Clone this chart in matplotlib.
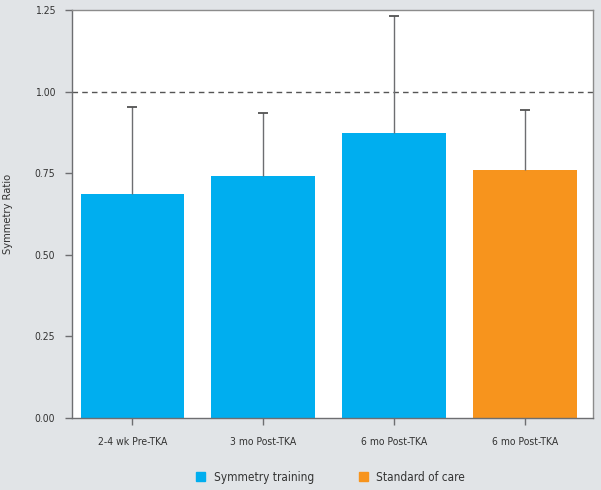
import matplotlib
matplotlib.use('Agg')
import matplotlib.pyplot as plt
from matplotlib.patches import Patch

plt.rcParams['font.family'] = ['DejaVu Sans']
plt.rcParams['font.stretch'] = 'condensed'

categories = ['2-4 wk Pre-TKA', '3 mo Post-TKA', '6 mo Post-TKA', '6 mo Post-TKA']
means = [0.686, 0.741, 0.873, 0.760]
upper_err = [0.267, 0.193, 0.359, 0.184]
groups = ['Symmetry training', 'Symmetry training', 'Symmetry training', 'Standard of care']
yticks = [0.00, 0.25, 0.50, 0.75, 1.00, 1.25]

blue = '#00aeef'
orange = '#f7941d'
bg = '#e1e4e7'
grey = '#6d6e71'
colors = [blue if g == 'Symmetry training' else orange for g in groups]

fig = plt.figure(figsize=(6.01, 4.90), dpi=100, facecolor=bg)
ax = fig.add_axes([72 / 601, 1 - 418 / 490, 521 / 601, 408 / 490])
ax.set_facecolor('white')

x = list(range(len(categories)))
tops = [m + e for m, e in zip(means, upper_err)]
ax.bar(x, means, width=0.79, color=colors, zorder=2)
ax.errorbar(x, means, yerr=[[0] * len(means), upper_err], fmt='none',
            ecolor=grey, elinewidth=1, capsize=0, zorder=3)
ax.plot(x, tops, linestyle='none', marker='_', markersize=7, markeredgewidth=1.2,
        color='#444444', zorder=3)
ax.axhline(1.0, color='#555555', linestyle=(0, (4, 3)), linewidth=1, zorder=1)

ax.set_xlim(-0.46, 3.52)
ax.set_ylim(0, 1.25)
ax.set_xticks(x)
ax.set_xticklabels(categories, fontsize=7.5, color='#333333')
ax.set_yticks(yticks)
ax.set_yticklabels(['%.2f' % v for v in yticks], fontsize=7.5, color='#333333')
ax.tick_params(axis='y', direction='out', length=5, width=1, color=grey, pad=7)
ax.tick_params(axis='x', direction='out', length=5, width=1, color=grey, pad=9)
for s in ax.spines.values():
    s.set_color('#8c8c8c')
    s.set_linewidth(1)
ax.spines['left'].set_color(grey)
ax.spines['bottom'].set_color(grey)
ax.set_ylabel('Symmetry Ratio', fontsize=8, color='#333333')
ax.yaxis.set_label_coords(-(72 - 13) / 521, 0.5)

handles = [Patch(color=blue, label='Symmetry training'),
           Patch(color=orange, label='Standard of care')]
fig.legend(handles=handles, loc='center', bbox_to_anchor=(0.55, 1 - 477 / 490),
           ncol=2, frameon=False, fontsize=8.5, handlelength=0.75, handleheight=0.75,
           columnspacing=3.8, handletextpad=0.7, labelcolor='#333333')

fig.savefig('out.png', dpi=100, facecolor=bg)
